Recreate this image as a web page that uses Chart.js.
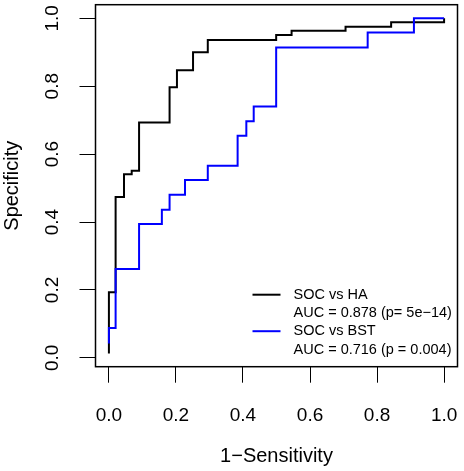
<!DOCTYPE html>
<html>
<head>
<meta charset="utf-8">
<script src="https://cdn.jsdelivr.net/npm/chart.js@4.4.1/dist/chart.umd.min.js"></script>
<style>
  html, body { margin: 0; padding: 0; background: #fff; }
</style>
</head>
<body>
<canvas id="roc" width="464" height="471"></canvas>
<script>
// step corners of the two ROC curves (x = 1-sensitivity, y = specificity)
const fprHA  = [0, 0, 0.02, 0.045, 0.068, 0.09, 0.181, 0.203, 0.251, 0.295, 0.499, 0.545, 0.706, 0.842, 1.0];
const specHA = [0.013, 0.193, 0.474, 0.541, 0.551, 0.693, 0.797, 0.847, 0.9, 0.936, 0.951, 0.963, 0.975, 0.988, 1.0];

const fprBST  = [0, 0, 0.02, 0.09, 0.158, 0.181, 0.227, 0.295, 0.384, 0.41, 0.432, 0.499, 0.772, 0.91, 1.0];
const specBST = [0.042, 0.088, 0.262, 0.394, 0.436, 0.48, 0.524, 0.566, 0.654, 0.697, 0.74, 0.914, 0.958, 1.0, 1.0];

const seriesNames = ["SOC vs HA", "SOC vs BST"];
const aucNotes = ["AUC = 0.878 (p= 5e−14)", "AUC = 0.716 (p = 0.004)"];
const seriesColors = ["#000000", "#0000ff"];

const tickValues = [0, 0.2, 0.4, 0.6, 0.8, 1.0];
const tickLabels = ["0.0", "0.2", "0.4", "0.6", "0.8", "1.0"];

const FONT = '"Liberation Sans", Arial, Helvetica, sans-serif';
Chart.defaults.font.family = FONT;
Chart.defaults.color = "#000";

function toPoints(xs, ys) {
  return xs.map((x, i) => ({ x: x, y: ys[i] }));
}

function noPad(s) {
  s.paddingTop = 0;
  s.paddingBottom = 0;
  s.paddingLeft = 0;
  s.paddingRight = 0;
}

// box round the plot + R style legend
const frame = {
  id: "frame",
  afterDraw(chart) {
    const ctx = chart.ctx;
    const a = chart.chartArea;
    ctx.save();
    ctx.strokeStyle = "#000";
    ctx.lineWidth = 1.5;
    ctx.strokeRect(a.left, a.top, a.right - a.left, a.bottom - a.top);

    ctx.font = "14.5px " + FONT;
    ctx.textBaseline = "middle";
    ctx.textAlign = "left";
    const x0 = a.right - 205;
    let y = a.bottom - 72;
    chart.data.datasets.forEach((ds, i) => {
      ctx.strokeStyle = ds.borderColor;
      ctx.lineWidth = 2;
      ctx.beginPath();
      ctx.moveTo(x0, y);
      ctx.lineTo(x0 + 28, y);
      ctx.stroke();
      ctx.fillStyle = "#000";
      ctx.fillText(ds.label, x0 + 41, y);
      ctx.fillText(aucNotes[i], x0 + 41, y + 18.3);
      y += 36.5;
    });
    ctx.restore();
  }
};

new Chart(document.getElementById("roc"), {
  type: "line",
  data: {
    datasets: [
      {
        label: seriesNames[0],
        data: toPoints(fprHA, specHA),
        borderColor: seriesColors[0],
        borderWidth: 2,
        stepped: "before",
        pointRadius: 0,
        fill: false,
        order: 2
      },
      {
        label: seriesNames[1],
        data: toPoints(fprBST, specBST),
        borderColor: seriesColors[1],
        borderWidth: 2,
        stepped: "before",
        pointRadius: 0,
        fill: false,
        order: 1
      }
    ]
  },
  options: {
    responsive: false,
    animation: false,
    devicePixelRatio: 1,
    layout: { padding: { left: 0, right: 6.5, top: 4.7, bottom: 0 } },
    plugins: { legend: { display: false }, tooltip: { enabled: false } },
    scales: {
      x: {
        type: "linear",
        min: -0.04,
        max: 1.04,
        border: { display: false },
        grid: { drawOnChartArea: false, tickLength: 16, color: "#000", lineWidth: 1 },
        ticks: {
          font: { size: 19 },
          color: "#000",
          padding: 22,
          callback: (v, i) => tickLabels[i]
        },
        afterBuildTicks: s => { s.ticks = tickValues.map(v => ({ value: v })); },
        afterFit: s => { s.height = 104.3; noPad(s); },
        title: {
          display: true,
          text: "1−Sensitivity",
          font: { size: 20 },
          color: "#000",
          padding: { top: 0, bottom: 3 }
        }
      },
      y: {
        type: "linear",
        min: -0.026,
        max: 1.04,
        border: { display: false },
        grid: { drawOnChartArea: false, tickLength: 16, color: "#000", lineWidth: 1 },
        ticks: {
          font: { size: 19 },
          color: "#000",
          padding: 13.5,
          minRotation: 90,
          maxRotation: 90,
          crossAlign: "center",
          callback: (v, i) => tickLabels[i]
        },
        afterBuildTicks: s => { s.ticks = tickValues.map(v => ({ value: v })); },
        afterFit: s => { s.width = 95.5; noPad(s); },
        title: {
          display: true,
          text: "Specificity",
          font: { size: 20 },
          color: "#000",
          padding: { top: 0, bottom: 0 }
        }
      }
    }
  },
  plugins: [frame]
});
</script>
</body>
</html>
